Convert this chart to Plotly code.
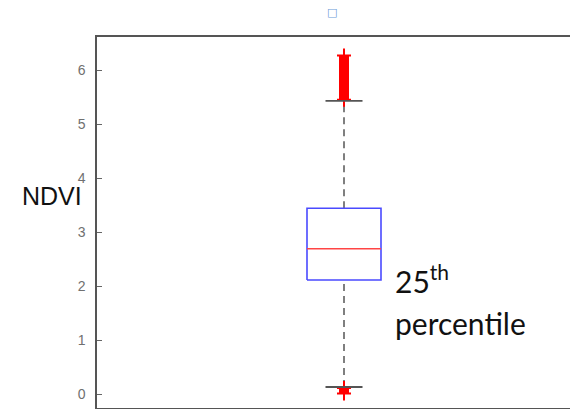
import plotly.graph_objects as go

# ---- data ----
category = ["NDVI"]
q1 = [2.11]
median = [2.69]
q3 = [3.44]
lower_whisker = [0.13]
upper_whisker = [5.43]
upper_outliers = [5.45, 6.27]   # extent of the dense upper outlier cluster
lower_outliers = [0.01, 0.11]   # extent of the dense lower outlier cluster
y_ticks = [0, 1, 2, 3, 4, 5, 6]

# ---- geometry of the layout (page body adds an 8px offset) ----
OFF = 8
W, H = 578 - OFF, 409 - OFF
L, T, R, B = 97 - OFF, 37 - OFF, 0, 1
plot_w = W - L - R
plot_h = H - T - B
center_px = 344 - OFF
px_per_unit = 148.0
xc = 1.0
x_range = [xc - (center_px - L) / px_per_unit, xc + (W - R - center_px) / px_per_unit]
y_range = [-0.259, 6.611]
half_box = 0.25
half_cap = 0.125

def px(xp):
    return (xp - OFF - L) / plot_w

def py(yp):
    return (H - B - (yp - OFF)) / plot_h

fig = go.Figure()

i = 0
# whiskers (dashed)
fig.add_trace(go.Scatter(x=[xc, xc], y=[q3[i], upper_whisker[i]], mode="lines",
                         line=dict(color="#555555", width=1.5, dash="7px,5px"),
                         showlegend=False, hoverinfo="skip"))
fig.add_trace(go.Scatter(x=[xc, xc], y=[lower_whisker[i], q1[i]], mode="lines",
                         line=dict(color="#555555", width=1.5, dash="7px,5px"),
                         showlegend=False, hoverinfo="skip"))
# box
fig.add_trace(go.Scatter(x=[xc - half_box, xc + half_box, xc + half_box, xc - half_box, xc - half_box],
                         y=[q1[i], q1[i], q3[i], q3[i], q1[i]], mode="lines",
                         line=dict(color="#4a4aff", width=1.6),
                         showlegend=False, hoverinfo="skip"))
# median
fig.add_trace(go.Scatter(x=[xc - half_box, xc + half_box], y=[median[i], median[i]], mode="lines",
                         line=dict(color="#ff4444", width=1.4),
                         showlegend=False, hoverinfo="skip"))
# outliers (dense clusters drawn as thick red segments with '+' ends)
for rng in (upper_outliers, lower_outliers):
    fig.add_trace(go.Scatter(x=[xc, xc], y=rng, mode="lines+markers",
                             line=dict(color="#ff0000", width=10),
                             marker=dict(symbol="cross-thin", size=10, color="#ff0000",
                                         line=dict(color="#ff0000", width=2)),
                             showlegend=False, hoverinfo="skip"))
# caps
for v in (upper_whisker[i], lower_whisker[i]):
    fig.add_trace(go.Scatter(x=[xc - half_cap, xc + half_cap], y=[v, v], mode="lines",
                             line=dict(color="#555555", width=1.8),
                             showlegend=False, hoverinfo="skip"))

fig.update_layout(
    width=W, height=H,
    margin=dict(l=L, r=R, t=T, b=B, pad=0),
    paper_bgcolor="white", plot_bgcolor="white",
    xaxis=dict(range=x_range, showgrid=False, zeroline=False, showticklabels=False,
               ticks="", showline=True, mirror=True, linecolor="#555555", linewidth=1.5,
               fixedrange=True),
    yaxis=dict(range=y_range, showgrid=False, zeroline=False, tickvals=y_ticks,
               ticks="inside", ticklen=5, tickcolor="#666666", tickwidth=1,
               showline=True, mirror=False, linecolor="#555555", linewidth=1.5,
               tickfont=dict(family="Liberation Sans, Arial, sans-serif", size=14, color="#707070"),
               ticklabelstandoff=7, fixedrange=True),
    annotations=[
        dict(text=category[0], xref="paper", yref="paper", x=px(20), y=py(196),
             xanchor="left", yanchor="middle", showarrow=False,
             font=dict(family="Liberation Sans Narrow, Arial Narrow, Liberation Sans, sans-serif",
                       size=25, color="#111111")),
        dict(text="25<sup>th</sup>", xref="paper", yref="paper", x=px(393), y=py(279),
             xanchor="left", yanchor="middle", showarrow=False,
             font=dict(family="Lato, sans-serif", size=30, color="#111111")),
        dict(text="percentile", xref="paper", yref="paper", x=px(393), y=py(323),
             xanchor="left", yanchor="middle", showarrow=False,
             font=dict(family="Lato, sans-serif", size=30, color="#111111")),
        dict(text="□", xref="paper", yref="paper", x=px(332), y=py(12),
             xanchor="center", yanchor="middle", showarrow=False,
             font=dict(family="DejaVu Sans, sans-serif", size=11, color="#6a9ad8")),
    ],
)

fig.write_html("out.html")
